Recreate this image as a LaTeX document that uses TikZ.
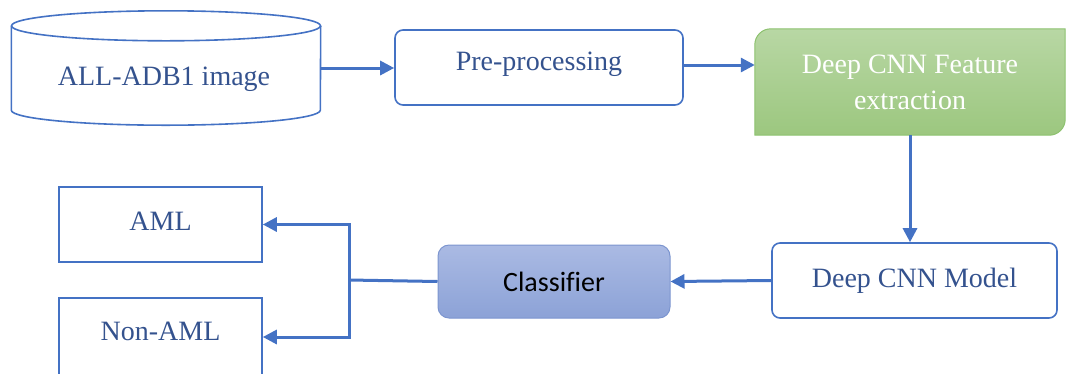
\documentclass[tikz,border=0pt]{standalone}
\usepackage{fontspec}
\setmainfont{Liberation Serif}
\newfontfamily\cfont[Ligatures=NoCommon]{Carlito}
\usetikzlibrary{arrows.meta}
\definecolor{lineblue}{HTML}{4472C4}
\definecolor{txtblue}{HTML}{34528E}
\definecolor{grnedge}{HTML}{8DC26F}
\definecolor{grntop}{HTML}{B8D7A4}
\definecolor{grnbot}{HTML}{9CC77F}
\definecolor{clsedge}{HTML}{7C95CF}
\definecolor{clstop}{HTML}{AABAE3}
\definecolor{clsbot}{HTML}{8CA2D7}
\begin{document}
\begin{tikzpicture}[x=1pt,y=-1pt,
  box/.style={draw=lineblue, line width=1.6pt, text=txtblue, font=\fontsize{28}{32}\selectfont, inner sep=0pt},
  lbl/.style={text=txtblue, font=\fontsize{28}{32}\selectfont},
  link/.style={draw=lineblue, line width=3pt},
  arr/.style={link, -{Triangle[length=14pt,width=14pt]}}]
\useasboundingbox (0,0) rectangle (1067,373);
% database
\node[rectangle, minimum width=309pt, minimum height=114pt, inner sep=0pt] (db) at (166,68){};
\draw[box] ([yshift=-15pt]db.north) ellipse [x radius=154.5pt, y radius=15pt];
\draw[box] ([yshift=-15pt]db.north west) -- ([yshift=15pt]db.south west)
  arc[start angle=180, end angle=360, x radius=154.5pt, y radius=15pt] -- ([yshift=-15pt]db.north east);
\node[lbl] (dbtxt) at (164,79){ALL-ADB1 image};
\node[box, rectangle, rounded corners=8pt, minimum width=288pt, minimum height=75pt] (pre) at (539,67.5){};
\node[lbl] (pretxt) at (539,64){Pre-processing};
% feature extraction
\node[rectangle, minimum width=310pt, minimum height=106pt, inner sep=0pt] (feat) at (910,82){};
\path[draw=grnedge, line width=1pt, top color=grntop, bottom color=grnbot]
  (feat.south west) -- ([yshift=-16pt]feat.north west) to[out=90,in=180] ([xshift=16pt]feat.north west)
  -- (feat.north east) -- ([yshift=16pt]feat.south east) to[out=-90,in=0] ([xshift=-16pt]feat.south east) -- cycle;
\node[text=white, align=center, font=\fontsize{28}{36}\selectfont] (feattxt) at (910,82){Deep CNN Feature\\extraction};
\node[box, rectangle, rounded corners=8pt, minimum width=285pt, minimum height=75pt] (model) at (914.5,280.5){Deep CNN Model};
\node[draw=clsedge, line width=1pt, top color=clstop, bottom color=clsbot, rounded corners=11pt, minimum width=232pt, minimum height=73pt, font=\cfont\fontsize{28}{32}\selectfont] (cls) at (554,281.5){Classifier};
% outputs
\node[box, rectangle, minimum width=203pt, minimum height=75pt] (aml) at (160.5,224.5){};
\node[lbl] (amltxt) at (160.5,221){AML};
\node[box, rectangle, minimum width=203pt, minimum height=78pt] (naml) at (160.5,337){};
\node[lbl] (namltxt) at (160.5,331){Non-AML};
\coordinate (split) at (349,280);
\draw[arr](db.east) -- (db.east -| pre.west);
\draw[arr](pre.east |- 0,65) -- (feat.west |- 0,65);
\draw[arr](feat.south) -- (feat.south |- model.north);
\draw[arr](model.west) -- (cls.east);
\draw[link](cls.west) -- (split);
\draw[arr](split) |- (aml.east);
\draw[arr](split) |- (naml.east);
\end{tikzpicture}
\end{document}
